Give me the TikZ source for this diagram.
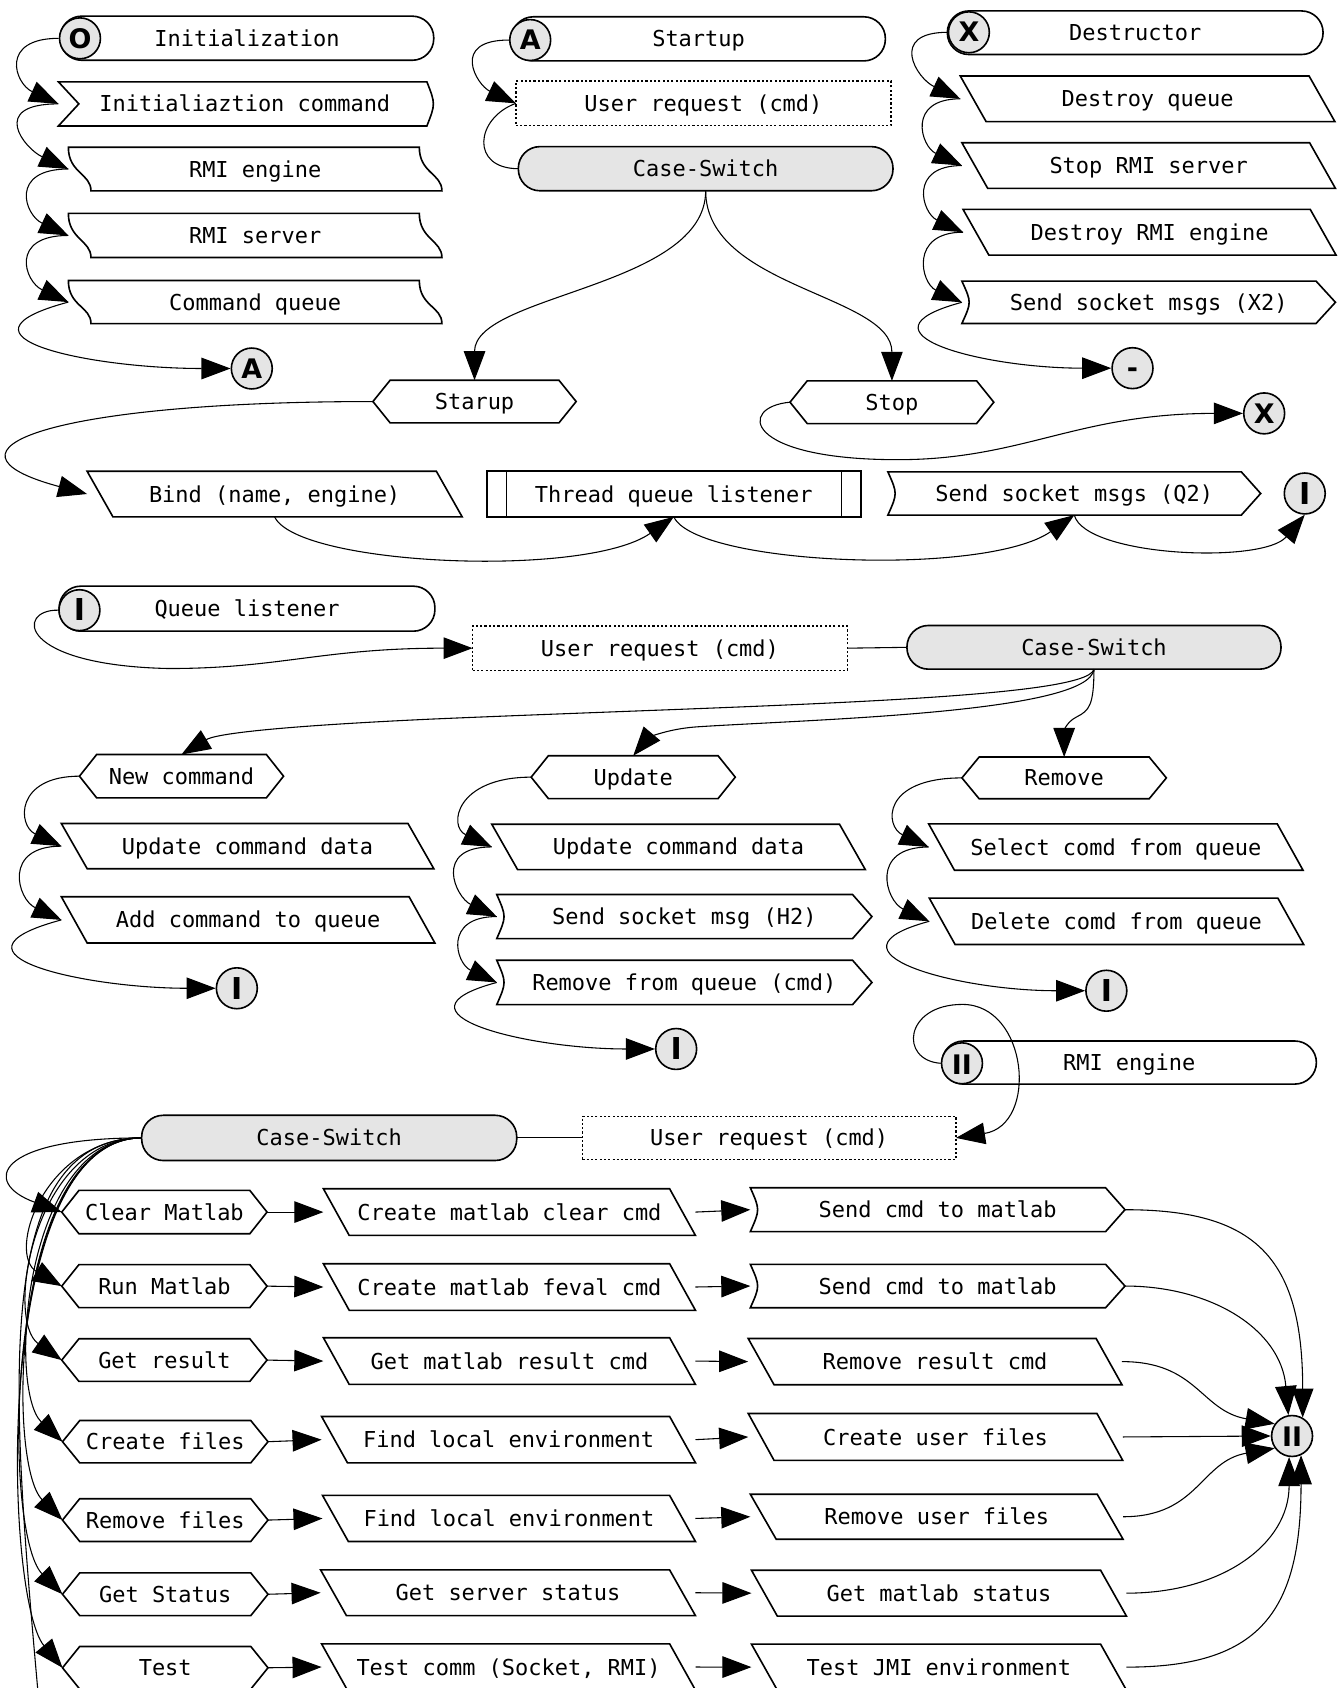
\documentclass[tikz,border=0pt]{standalone}
\usepackage{fontspec}
\usetikzlibrary{arrows.meta}
\newfontfamily\flowmono{DejaVu Sans Mono}
\newfontfamily\flowsans{DejaVu Sans}
\definecolor{gatefill}{gray}{0.9}

\tikzset{
  base/.style={rectangle, inner sep=0pt, outer sep=0pt, text height=17pt, text depth=2pt,
    font={\flowmono\fontsize{20.4}{24}\selectfont}},
  sz/.style 2 args={minimum width=#1pt, minimum height=#2pt},
  term/.style={base, draw, line width=1.5pt, rounded corners=20pt},
  switchbox/.style={term, fill=gatefill},
  dotbox/.style={base, draw, line width=1.2pt, dash pattern=on 2pt off 2pt},
  gate/.style={circle, draw, line width=1.5pt, fill=gatefill, minimum size=38pt, inner sep=0pt,
    text height=18pt, text depth=0pt, font={\flowsans\bfseries\fontsize{25}{26}\selectfont}},
  gatebar/.style={gate, text height=20pt, font={\flowsans\bfseries\fontsize{28}{28}\selectfont}},
  shp/.style={draw, line width=1.5pt},
  conn/.style={draw, line width=1pt},
  arr/.style={conn, -{Triangle[length=27pt,width=20pt]}},
  link/.style={arr, out=180, in=155, out distance=55pt, in distance=45pt}
}

% outlines drawn around the (invisible) text boxes
\newcommand\pgramshape[2][24]{%
  \draw[shp] (#2.north west) -- ([xshift=-#1pt]#2.north east) -- (#2.south east)
    -- ([xshift=#1pt]#2.south west) -- cycle;}
\newcommand\hexshape[1]{%
  \draw[shp] (#1.west) -- ([xshift=16pt]#1.north west) -- ([xshift=-16pt]#1.north east)
    -- (#1.east) -- ([xshift=-16pt]#1.south east) -- ([xshift=16pt]#1.south west) -- cycle;}
\newcommand\sendshape[1]{%
  \draw[shp] (#1.north west) .. controls ([xshift=9pt]#1.west) .. (#1.south west)
    -- ([xshift=-18pt]#1.south east) -- (#1.east) -- ([xshift=-18pt]#1.north east) -- cycle;}
\newcommand\tapeshape[1]{%
  \draw[shp] (#1.north west) .. controls ([yshift=-24pt]#1.north west)
      and ([xshift=21pt,yshift=16pt]#1.south west) .. ([xshift=21pt]#1.south west)
    -- (#1.south east) .. controls ([yshift=16pt]#1.south east)
      and ([xshift=-21pt,yshift=-24pt]#1.north east) .. ([xshift=-21pt]#1.north east) -- cycle;}
\newcommand\notchshape[1]{%
  \draw[shp] (#1.north west) -- ([xshift=19pt]#1.west) -- (#1.south west)
    -- ([xshift=-4pt]#1.south east) .. controls ([xshift=4pt]#1.east) .. ([xshift=-4pt]#1.north east) -- cycle;}
\newcommand\procshape[1]{%
  \draw[shp] (#1.north west) rectangle (#1.south east)
    ([xshift=18.5pt]#1.north west) -- ([xshift=18.5pt]#1.south west)
    ([xshift=-18pt]#1.north east) -- ([xshift=-18pt]#1.south east);}

\begin{document}
\begin{tikzpicture}[x=1pt,y=1pt]
\path[use as bounding box, fill=white] (0,0) rectangle (1247,-1568);

% ---------------- initialization ----------------
\node[term, sz={347}{41}] (init) at (229.4,-35.5) {Initialization};
\node[gate] (gO) at (74.3,-35.6) {O};
\node[base, sz={346.3}{41}] (initcmd) at (227.4,-96.5) {Initialiaztion command}; \notchshape{initcmd}
\node[base, sz={347}{40.5}] (rmieng) at (237,-157) {RMI engine\ }; \tapeshape{rmieng}
\node[base, sz={347}{41}] (rmisrv) at (237,-218.7) {RMI server\ }; \tapeshape{rmisrv}
\node[base, sz={347}{40}] (cmdq) at (237,-280.6) {Command queue}; \tapeshape{cmdq}
\node[gate] (gA1) at (233.9,-342.3) {A};

\draw[link] (gO.west) to (initcmd.west);
\draw[link, out distance=65pt] (initcmd.west) to (rmieng.west);
\draw[link] (rmieng.west) to (rmisrv.west);
\draw[link] (rmisrv.west) to (cmdq.west);
\draw[arr] (cmdq.west) to[out=195,in=180,out distance=125pt,in distance=130pt] (gA1.west);

% ---------------- startup ----------------
\node[term, sz={347}{41}] (startup) at (648.9,-36.1) {Startup};
\node[gate] (gA2) at (492.5,-37.2) {A};
\node[dotbox, sz={348.4}{41.5}] (ureq1) at (653.4,-96) {User request (cmd)};
\node[switchbox, sz={348}{41}] (cs1) at (655.5,-156.7) {Case-Switch};
\node[base, sz={188.8}{39.6}] (starup) at (440.8,-373) {Starup}; \hexshape{starup}
\node[base, sz={189.3}{39.7}] (stop) at (828.5,-373.6) {Stop}; \hexshape{stop}

\draw[link, in distance=40pt] (gA2.west) to (ureq1.west);
\draw[conn] (cs1.west) to[out=180,in=200,out distance=45pt,in distance=40pt] (ureq1.west);
\draw[arr] (cs1.south) to[out=-90,in=90,out distance=90pt,in distance=80pt] (starup.north);
\draw[arr] (cs1.south) to[out=-90,in=90,out distance=90pt,in distance=80pt] (stop.north);

% ---------------- destructor ----------------
\node[term, sz={349}{40.5}] (destr) at (1054.5,-30.4) {Destructor};
\node[gate] (gX1) at (900,-30) {X};
\node[base, sz={348}{42.4}] (dq) at (1066,-91.8) {Destroy queue}; \pgramshape{dq}
\node[base, sz={347}{42.4}] (srs) at (1067,-153.8) {Stop RMI server}; \pgramshape{srs}
\node[base, sz={346.5}{42.5}] (dre) at (1067.8,-215.7) {Destroy RMI engine}; \pgramshape{dre}
\node[base, sz={347}{39.3}] (sx2) at (1067,-280.8) {Send socket msgs (X2)}; \sendshape{sx2}
\node[gate] (gM) at (1052,-342) {-};

\draw[link] (gX1.west) to (dq.west);
\draw[link, out distance=50pt, in distance=42pt] (dq.west) to (srs.west);
\draw[link, out distance=50pt, in distance=42pt] (srs.west) to (dre.west);
\draw[link, out distance=50pt, in distance=42pt] (dre.west) to (sx2.west);
\draw[arr] (sx2.west) to[out=195,in=180,out distance=110pt,in distance=120pt] (gM.west);

% ---------------- startup / stop branches ----------------
\node[base, sz={348.4}{42.4}] (bind) at (255.1,-458.9) {Bind (name, engine)}; \pgramshape{bind}
\node[base, sz={347.5}{42.4}] (thread) at (625.9,-458.9) {Thread queue listener}; \procshape{thread}
\node[base, sz={346.3}{40.2}] (sq2) at (997.9,-458.4) {Send socket msgs (Q2)}; \sendshape{sq2}
\node[gatebar] (gI1) at (1212,-458.4) {I};
\node[gate] (gX2) at (1174.3,-384) {X};

\draw[arr] (starup.west) to[out=180,in=165,out distance=300pt,in distance=158pt] (bind.west);
\draw[arr] (bind.south) to[out=-65,in=-145,out distance=50pt,in distance=100pt] (thread.south);
\draw[arr] (thread.south) to[out=-65,in=-145,out distance=50pt,in distance=100pt] (sq2.south);
\draw[arr] (sq2.south) to[out=-75,in=-130,out distance=40pt,in distance=60pt] (gI1.south);
\draw[arr] (stop.west) .. controls (685,-378) and (690,-427) .. (834,-427)
  .. controls (950,-427) and (1000,-384) .. (gX2.west);

% ---------------- queue listener ----------------
\node[term, sz={349}{41.8}] (ql) at (229.5,-565.4) {Queue listener};
\node[gatebar] (gI2) at (73.8,-566.8) {I};
\node[dotbox, sz={348}{41}] (ureq2) at (613,-602.1) {User request (cmd)};
\node[switchbox, sz={347.5}{40.6}] (cs2) at (1016.2,-601.3) {Case-Switch};
\node[base, sz={189.6}{40.3}] (newcmd) at (168.6,-721) {New command}; \hexshape{newcmd}
\node[base, sz={189.6}{39.8}] (update) at (588.2,-721.9) {Update}; \hexshape{update}
\node[base, sz={189.9}{38.8}] (remove) at (988.5,-722.6) {Remove}; \hexshape{remove}

\draw[arr] (gI2.west) .. controls (15,-566) and (15,-618) .. (157,-621)
  .. controls (260,-621) and (300,-602) .. (ureq2.west);
\draw[conn] (ureq2.east) -- (cs2.west);
\draw[arr] (cs2.south) .. controls (1010,-650) and (700,-655) .. (400,-668)
  .. controls (250,-675) and (200,-682) .. (newcmd.north);
\draw[arr] (cs2.south) .. controls (1012,-662) and (760,-668) .. (650,-675)
  .. controls (615,-677) and (600,-688) .. (update.north);
\draw[arr] (cs2.south) .. controls (1016,-655) and (1012,-660) .. (1000,-666)
  .. controls (990,-671) and (988.5,-680) .. (remove.north);

% new command
\node[base, sz={346}{42}] (ucd1) at (230,-786) {Update command data}; \pgramshape{ucd1}
\node[base, sz={347}{43}] (acq) at (230.5,-854.5) {Add command to queue}; \pgramshape{acq}
\node[gatebar] (gI3) at (220,-918) {I};
\draw[link, out distance=60pt] (newcmd.west) to (ucd1.west);
\draw[link] (ucd1.west) to (acq.west);
\draw[arr] (acq.west) to[out=195,in=180,out distance=125pt,in distance=120pt] (gI3.west);

% update
\node[base, sz={347}{42.2}] (ucd2) at (630.3,-786.7) {Update command data}; \pgramshape{ucd2}
\node[base, sz={348.5}{40.9}] (ssh2) at (635.7,-851.4) {Send socket msg (H2)}; \sendshape{ssh2}
\node[base, sz={348.5}{41.2}] (rfq) at (635.7,-912.6) {Remove from queue (cmd)}; \sendshape{rfq}
\node[gatebar] (gI4) at (628.1,-974.4) {I};
\draw[link, out distance=70pt] (update.west) to (ucd2.west);
\draw[link, in distance=42pt] (ucd2.west) to (ssh2.west);
\draw[link, out distance=50pt, in distance=42pt] (ssh2.west) to (rfq.west);
\draw[arr] (rfq.west) to[out=195,in=180,out distance=110pt,in distance=120pt] (gI4.west);

% remove
\node[base, sz={347.8}{43.1}] (scq) at (1036.5,-786.8) {Select comd from queue}; \pgramshape{scq}
\node[base, sz={347.8}{43.1}] (dcq) at (1037.1,-855.8) {Delete comd from queue}; \pgramshape{dcq}
\node[gatebar] (gI5) at (1027.7,-920.3) {I};
\draw[link, out distance=75pt] (remove.west) to (scq.west);
\draw[link] (scq.west) to (dcq.west);
\draw[arr] (dcq.west) to[out=195,in=180,out distance=110pt,in distance=120pt] (gI5.west);

% ---------------- RMI engine ----------------
\node[term, sz={347.8}{40}] (rmi2) at (1048.9,-987) {RMI engine};
\node[gatebar, font={\flowsans\bfseries\fontsize{25}{26}\selectfont}] (gII1) at (893.6,-987.7) {II};
\node[switchbox, sz={348.4}{42}] (cs3) at (305.8,-1057) {Case-Switch};
\node[dotbox, sz={347}{40}] (ureq3) at (714.5,-1057) {User request (cmd)};

\draw[arr] (gII1.west) .. controls (835,-985) and (840,-933) .. (894,-933)
  .. controls (955,-933) and (965,-1045) .. (ureq3.east);
\draw[conn] (cs3.east) -- (ureq3.west);

% command rows
\node[base, sz={190.7}{40.3}] (clear) at (152.7,-1125.9) {Clear Matlab}; \hexshape{clear}
\node[base, sz={190.7}{40}] (run) at (152.7,-1194.7) {Run Matlab}; \hexshape{run}
\node[base, sz={190.7}{39.6}] (getres) at (152.7,-1263.4) {Get result}; \hexshape{getres}
\node[base, sz={190.9}{39.3}] (crf) at (153.5,-1339.2) {Create files}; \hexshape{crf}
\node[base, sz={190.9}{39.7}] (rmf) at (153.5,-1412) {Remove files}; \hexshape{rmf}
\node[base, sz={190.9}{39.7}] (gst) at (153.5,-1480.9) {Get Status}; \hexshape{gst}
\node[base, sz={190.9}{39.6}] (tst) at (153.5,-1549.2) {Test}; \hexshape{tst}

\node[base, sz={345.6}{43.4}] (cmcc) at (473.2,-1125.9) {Create matlab clear cmd}; \pgramshape{cmcc}
\node[base, sz={345.6}{43.3}] (cmfc) at (473.2,-1195.5) {Create matlab feval cmd}; \pgramshape{cmfc}
\node[base, sz={345.6}{43.4}] (gmrc) at (473.2,-1264.3) {Get matlab result cmd}; \pgramshape{gmrc}
\node[base, sz={347.3}{43}] (fle1) at (472.4,-1337.3) {Find local environment}; \pgramshape{fle1}
\node[base, sz={346.4}{42.8}] (fle2) at (472.8,-1410.5) {Find local environment}; \pgramshape{fle2}
\node[base, sz={348.2}{42.5}] (gss) at (471.9,-1479.5) {Get server status}; \pgramshape{gss}
\node[base, sz={347.3}{43}] (tcm) at (472.4,-1548.5) {Test comm (Socket, RMI)}; \pgramshape{tcm}

\node[base, sz={348}{40.7}] (scm1) at (871,-1123.7) {Send cmd to matlab}; \sendshape{scm1}
\node[base, sz={348}{40.3}] (scm2) at (871,-1194.6) {Send cmd to matlab}; \sendshape{scm2}
\node[base, sz={347.2}{42.9}] (rrc) at (868.6,-1264.8) {Remove result cmd}; \pgramshape{rrc}
\node[base, sz={347.9}{43.6}] (cuf) at (869,-1334.8) {Create user files}; \pgramshape{cuf}
\node[base, sz={346.2}{41.8}] (ruf) at (870.1,-1408.9) {Remove user files}; \pgramshape{ruf}
\node[base, sz={348.3}{42.6}] (gms) at (872.2,-1479.9) {Get matlab status}; \pgramshape{gms}
\node[base, sz={348.3}{42.7}] (tjmi) at (872.2,-1548.6) {Test JMI environment}; \pgramshape{tjmi}

\node[gatebar, font={\flowsans\bfseries\fontsize{25}{26}\selectfont}] (gII2) at (1200.2,-1333.9) {II};

% case switch fan-out
\coordinate (fanend) at (40,-1625);
\draw[arr] (cs3.west) to[out=180,in=160,out distance=135pt,in distance=80pt] (clear.west);
\draw[arr] (cs3.west) to[out=180,in=150,out distance=90pt,in distance=60pt] (run.west);
\draw[arr] (cs3.west) to[out=180,in=145,out distance=100pt,in distance=65pt] (getres.west);
\draw[arr] (cs3.west) to[out=180,in=137,out distance=110pt,in distance=70pt] (crf.west);
\draw[arr] (cs3.west) to[out=180,in=135,out distance=120pt,in distance=75pt] (rmf.west);
\draw[arr] (cs3.west) to[out=180,in=135,out distance=130pt,in distance=80pt] (gst.west);
\draw[arr] (cs3.west) to[out=180,in=130,out distance=140pt,in distance=85pt] (tst.west);
\draw[conn] (cs3.west) to[out=180,in=95,out distance=150pt,in distance=300pt] (fanend);

% row arrows
\foreach \a/\b/\c in {clear/cmcc/scm1, run/cmfc/scm2, getres/gmrc/rrc, crf/fle1/cuf,
                      rmf/fle2/ruf, gst/gss/gms, tst/tcm/tjmi}{
  \draw[arr] (\a.east) -- (\b.west);
  \draw[arr] (\b.east) -- (\c.west);
}

% results into II
\draw[arr] (scm1.east) to[out=0,in=90,out distance=120pt,in distance=150pt] (gII2.60);
\draw[arr] (scm2.east) to[out=0,in=95,out distance=80pt,in distance=80pt] (gII2.100);
\draw[arr] (rrc.east) to[out=0,in=170,out distance=70pt,in distance=70pt] (gII2.145);
\draw[arr] (cuf.east) -- (gII2.west);
\draw[arr] (ruf.east) to[out=0,in=190,out distance=70pt,in distance=70pt] (gII2.215);
\draw[arr] (gms.east) to[out=0,in=-90,out distance=90pt,in distance=80pt] (gII2.262);
\draw[arr] (tjmi.east) to[out=0,in=-90,out distance=120pt,in distance=150pt] (gII2.295);
\end{tikzpicture}
\end{document}
